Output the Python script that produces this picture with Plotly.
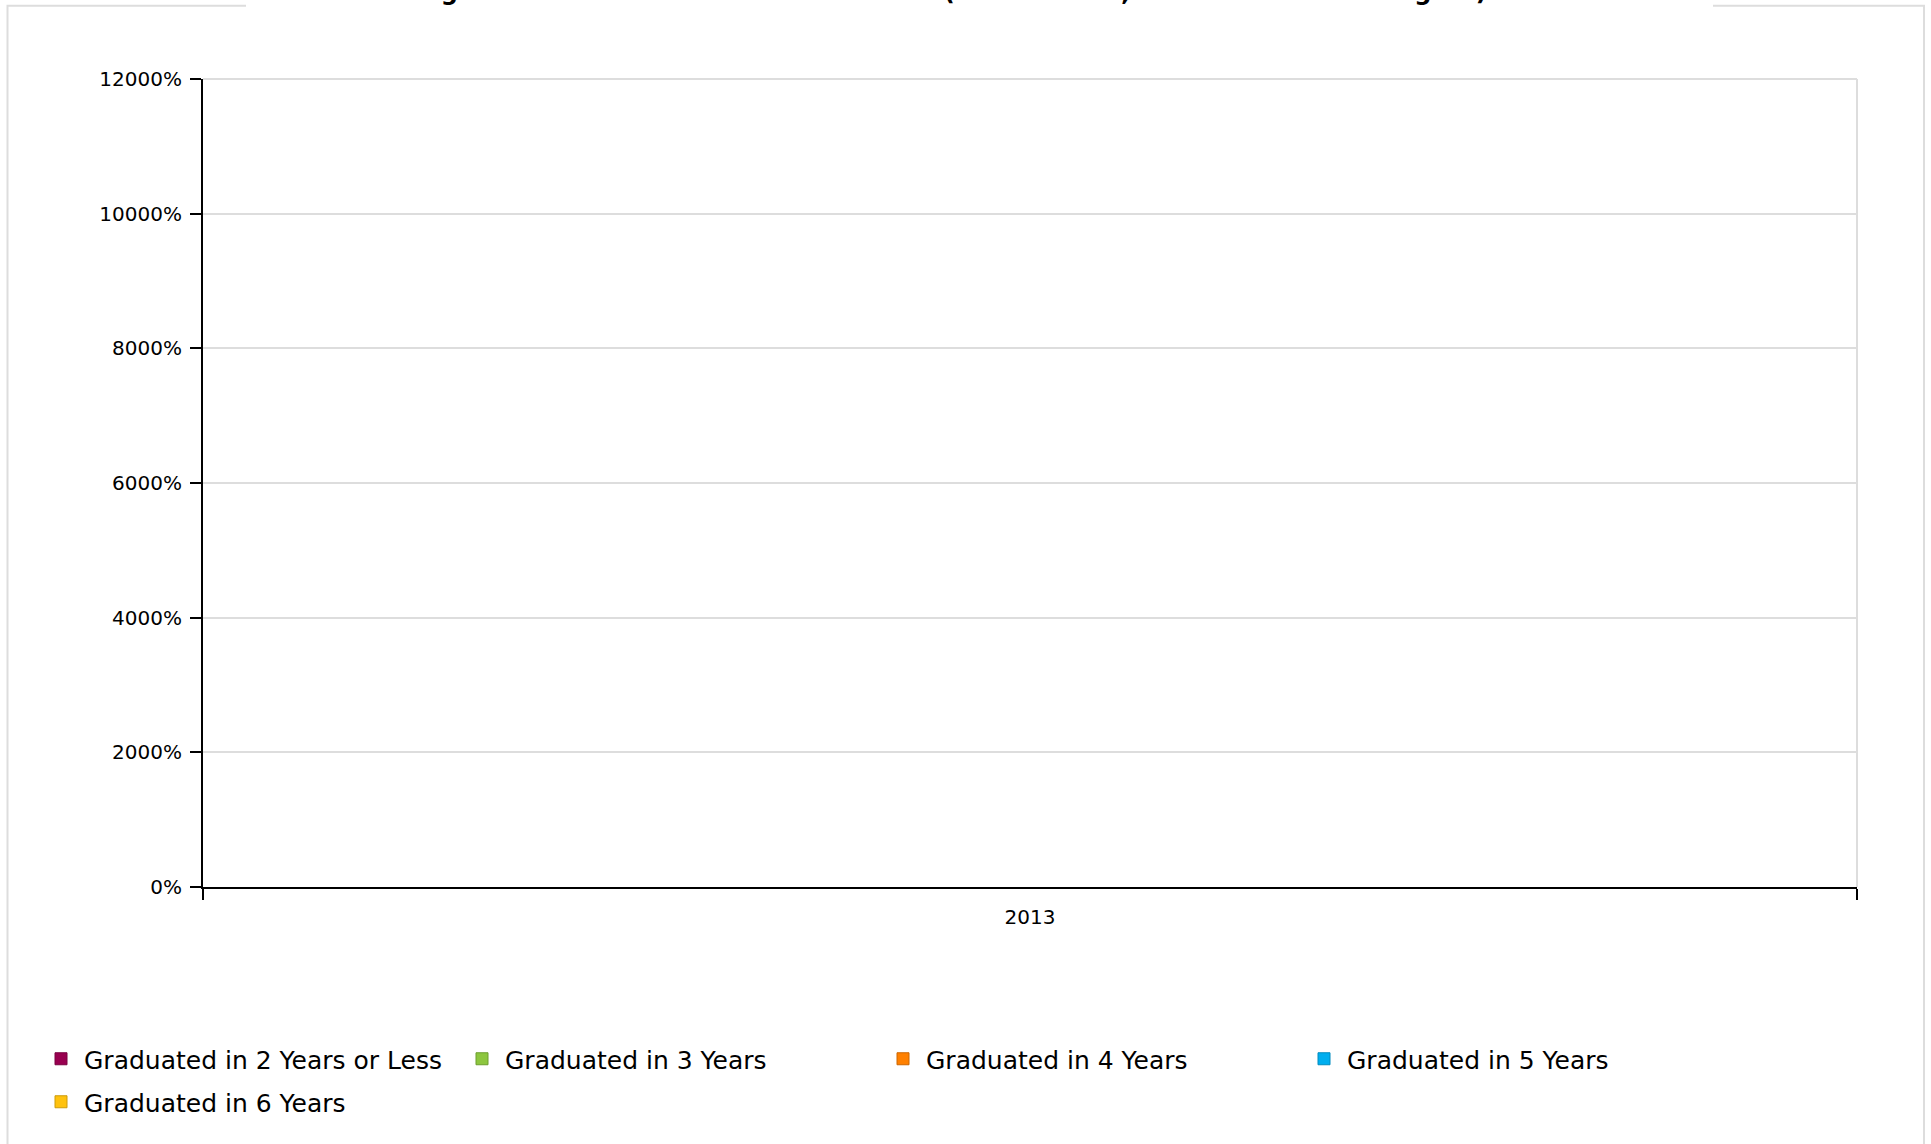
import plotly.graph_objects as go

# ---- data ----
categories = ["2013"]
series_names = [
    "Graduated in 2 Years or Less",
    "Graduated in 3 Years",
    "Graduated in 4 Years",
    "Graduated in 5 Years",
    "Graduated in 6 Years",
]
values_2yr = [0]
values_3yr = [0]
values_4yr = [0]
values_5yr = [0]
values_6yr = [0]
series_values = [values_2yr, values_3yr, values_4yr, values_5yr, values_6yr]
fill_colors = ["#990050", "#8dc63f", "#ff8000", "#00aeef", "#ffc20e"]
edge_colors = ["#7a0040", "#6d9e2e", "#cc6600", "#008bbf", "#cc9b0b"]
y_tick_values = [0, 2000, 4000, 6000, 8000, 10000, 12000]
y_tick_labels = ["0%", "2000%", "4000%", "6000%", "8000%", "10000%", "12000%"]
title_text = ("Bachelor's Degree Graduation Rates for Freshmen "
              "(Cohort 2013, All Who Earned a Degree) at This School")

# ---- layout geometry (pixels) ----
W, H = 1931, 1144
L, R, T, B = 203, 1857, 79, 887
PW, PH = R - L, B - T


def px_x(px):
    return (px - L) / PW


def px_y(py):
    return (B - py) / PH


FONT = "DejaVu Sans"

fig = go.Figure()
for i, (name, vals) in enumerate(zip(series_names, series_values)):
    fig.add_trace(go.Bar(
        x=categories, y=vals, name=name,
        marker=dict(color=fill_colors[i], line=dict(color=edge_colors[i], width=1)),
        legend="legend" if i < 4 else "legend2",
    ))

legend_common = dict(
    orientation="h", xanchor="left", yanchor="top",
    font=dict(family=FONT, size=25, color="#000000"),
    bgcolor="rgba(0,0,0,0)", borderwidth=0,
    itemwidth=36, entrywidth=370, entrywidthmode="pixels",
    traceorder="normal",
)

fig.update_layout(
    width=W, height=H,
    margin=dict(l=L, r=W - R, t=T, b=H - B, autoexpand=False),
    paper_bgcolor="#ffffff", plot_bgcolor="#ffffff",
    font=dict(family=FONT, size=20, color="#000000"),
    barmode="stack",
    showlegend=True,
    legend=dict(x=px_x(38), y=px_y(1036), **legend_common),
    legend2=dict(x=px_x(38), y=px_y(1079), **legend_common),
    xaxis=dict(
        type="category", range=[-0.5, 0.5],
        showgrid=False, zeroline=False,
        showline=True, linecolor="#000000", linewidth=2,
        ticks="outside", tickson="boundaries", ticklen=11, tickwidth=2,
        tickcolor="#000000", ticklabelstandoff=11,
        tickfont=dict(family=FONT, size=20, color="#000000"),
    ),
    yaxis=dict(
        range=[0, 12000],
        tickvals=y_tick_values, ticktext=y_tick_labels,
        showgrid=True, gridcolor="#dddddd", gridwidth=2,
        zeroline=False,
        showline=True, linecolor="#000000", linewidth=2,
        ticks="outside", ticklen=11, tickwidth=2, tickcolor="#000000",
        ticklabelstandoff=4,
        tickfont=dict(family=FONT, size=20, color="#000000"),
    ),
    shapes=[
        # outer panel border
        dict(type="rect", xref="paper", yref="paper",
             x0=px_x(7.5), x1=px_x(1924), y0=px_y(1200), y1=px_y(5.8),
             line=dict(color="#dddddd", width=2), fillcolor="rgba(0,0,0,0)",
             layer="below"),
        # gap in border behind title
        dict(type="rect", xref="paper", yref="paper",
             x0=px_x(246), x1=px_x(1713), y0=px_y(9), y1=px_y(-10),
             line=dict(width=0), fillcolor="#ffffff", layer="below"),
        # right and top plot-area border
        dict(type="line", xref="paper", yref="paper",
             x0=1, x1=1, y0=0, y1=1,
             line=dict(color="#dddddd", width=2), layer="below"),
        dict(type="line", xref="paper", yref="paper",
             x0=0, x1=1, y0=1, y1=1,
             line=dict(color="#dddddd", width=2), layer="below"),
    ],
    annotations=[
        dict(text="<b>" + title_text + "</b>", xref="paper", yref="paper",
             x=px_x(970), y=px_y(-8), xanchor="center", yanchor="middle",
             showarrow=False,
             font=dict(family=FONT, size=24, color="#000000")),
    ],
)

fig.write_html(
    "out.html",
    config={"displayModeBar": False},
    post_script="document.body.style.margin='0';document.body.style.overflow='hidden';",
)
